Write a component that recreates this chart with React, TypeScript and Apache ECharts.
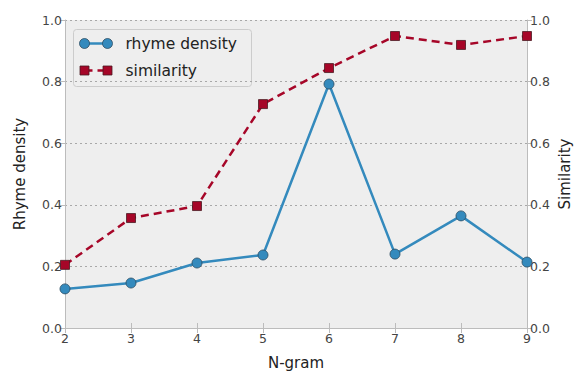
import React, { useEffect, useRef } from "react";
import * as echarts from "echarts";

const ngrams = [2, 3, 4, 5, 6, 7, 8, 9];
const rhymeDensity = [0.127, 0.146, 0.211, 0.237, 0.792, 0.24, 0.364, 0.214];
const similarity = [0.205, 0.357, 0.396, 0.727, 0.844, 0.948, 0.919, 0.948];
const yTicks = [0, 0.2, 0.4, 0.6, 0.8, 1.0];

const BLUE = "#348ABD";
const RED = "#A60628";
const FONT = "DejaVu Sans";

export default function App() {
  const ref = useRef<HTMLDivElement>(null);
  useEffect(() => {
    if (!ref.current) return;
    const chart = echarts.init(ref.current, undefined, { renderer: "svg" });
    const fmt = (v: number) => v.toFixed(1);
    const yBase = {
      type: "value",
      min: yTicks[0],
      max: yTicks[yTicks.length - 1],
      interval: 0.2,
      axisLine: { show: true, lineStyle: { color: "#bcbcbc", width: 1 } },
      axisTick: { show: true, length: 5, lineStyle: { color: "#bcbcbc" } },
      axisLabel: { formatter: fmt, color: "#444", fontFamily: FONT, fontSize: 12.5, margin: 3 },
      nameLocation: "middle",
      nameTextStyle: { color: "#222", fontFamily: FONT, fontSize: 15 },
    };
    chart.setOption({
      animation: false,
      grid: {
        left: 65,
        right: 48,
        top: 20,
        bottom: 43,
        show: true,
        backgroundColor: "#EEEEEE",
        borderWidth: 0,
        containLabel: false,
        outerBoundsMode: "none",
      },
      xAxis: [
        {
          type: "value",
          min: 2,
          max: 9,
          interval: 1,
          position: "bottom",
          name: "N-gram",
          nameLocation: "middle",
          nameGap: 27,
          nameTextStyle: { color: "#222", fontFamily: FONT, fontSize: 15 },
          axisLine: { show: true, lineStyle: { color: "#bcbcbc", width: 1 } },
          axisTick: { show: true, inside: true, length: 5, lineStyle: { color: "#bcbcbc" } },
          axisLabel: { color: "#444", fontFamily: FONT, fontSize: 12.5, margin: 4 },
          splitLine: { show: false },
        },
        {
          type: "value",
          min: 2,
          max: 9,
          interval: 1,
          position: "top",
          axisLine: { show: false },
          axisTick: { show: true, inside: true, length: 5, lineStyle: { color: "#bcbcbc" } },
          axisLabel: { show: false },
          splitLine: { show: false },
        },
      ],
      yAxis: [
        {
          ...yBase,
          position: "left",
          name: "Rhyme density",
          nameGap: 38,
          splitLine: { show: true, lineStyle: { color: "#a8a8a8", type: [2, 3], width: 1 } },
        },
        {
          ...yBase,
          position: "right",
          splitLine: { show: false },
        },
      ],
      series: [
        {
          type: "line",
          name: "rhyme density",
          xAxisIndex: 0,
          yAxisIndex: 0,
          data: ngrams.map((n, i) => [n, rhymeDensity[i]]),
          symbol: "circle",
          symbolSize: 10,
          lineStyle: { color: BLUE, width: 2.5 },
          itemStyle: { color: BLUE, borderColor: "#2a4a60", borderWidth: 0.8 },
          z: 3,
        },
        {
          type: "line",
          name: "similarity",
          xAxisIndex: 0,
          yAxisIndex: 1,
          data: ngrams.map((n, i) => [n, similarity[i]]),
          symbol: "rect",
          symbolSize: 9,
          lineStyle: { color: RED, width: 2.5, type: [8, 5] },
          itemStyle: { color: RED, borderColor: "#4a1a22", borderWidth: 0.8 },
          z: 4,
        },
      ],
      graphic: [
        {
          type: "text",
          x: 565,
          y: 174,
          rotation: Math.PI / 2,
          style: {
            text: "Similarity",
            fill: "#222",
            font: `15px "${FONT}"`,
            align: "center",
            verticalAlign: "middle",
          },
        },
        {
          type: "group",
          left: 73,
          top: 29,
          children: [
            {
              type: "rect",
              shape: { x: 0, y: 0, width: 178, height: 57, r: 3 },
              style: { fill: "#EEEEEE", stroke: "#cccccc", lineWidth: 1 },
            },
            { type: "line", shape: { x1: 11, y1: 14, x2: 34, y2: 14 }, style: { stroke: BLUE, lineWidth: 2.5 } },
            { type: "circle", shape: { cx: 11, cy: 14, r: 5 }, style: { fill: BLUE, stroke: "#2a4a60", lineWidth: 0.8 } },
            { type: "circle", shape: { cx: 34, cy: 14, r: 5 }, style: { fill: BLUE, stroke: "#2a4a60", lineWidth: 0.8 } },
            {
              type: "text",
              x: 52,
              y: 14,
              style: { text: "rhyme density", fill: "#222", font: `15.5px "${FONT}"`, textVerticalAlign: "middle" },
            },
            { type: "line", shape: { x1: 11, y1: 41, x2: 34, y2: 41 }, style: { stroke: RED, lineWidth: 2.5, lineDash: [8, 5] } },
            { type: "rect", shape: { x: 6.5, y: 36.5, width: 9, height: 9 }, style: { fill: RED, stroke: "#4a1a22", lineWidth: 0.8 } },
            { type: "rect", shape: { x: 29.5, y: 36.5, width: 9, height: 9 }, style: { fill: RED, stroke: "#4a1a22", lineWidth: 0.8 } },
            {
              type: "text",
              x: 52,
              y: 41,
              style: { text: "similarity", fill: "#222", font: `15.5px "${FONT}"`, textVerticalAlign: "middle" },
            },
          ],
        },
      ],
    });
    return () => chart.dispose();
  }, []);
  return <div ref={ref} style={{ width: 575, height: 371, position: "absolute", left: 0, top: 0 }} />;
}
